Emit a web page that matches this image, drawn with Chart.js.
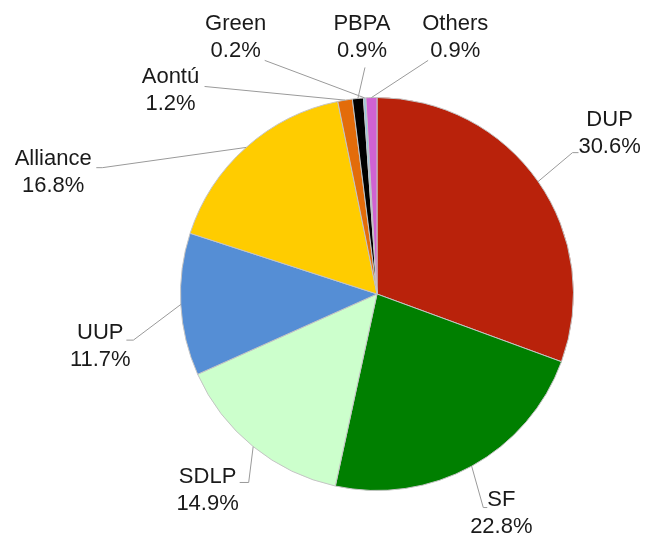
<!DOCTYPE html>
<html>
<head>
<meta charset="utf-8">
<script src="https://cdn.jsdelivr.net/npm/chart.js@4/dist/chart.umd.min.js"></script>
<style>
  html, body { margin: 0; padding: 0; background: #fff; }
  #wrap { width: 646px; height: 535px; position: relative; }
</style>
</head>
<body>
<div id="wrap"><canvas id="chartSeats"></canvas></div>
<script>
// data, clockwise from 12 o'clock
const parties = ['DUP', 'SF', 'SDLP', 'UUP', 'Alliance', 'Aontú', 'PBPA', 'Green', 'Others'];
const shares = [30.6, 22.8, 14.9, 11.7, 16.8, 1.2, 0.9, 0.2, 0.9];
const colours = ['#b9220b', '#007f00', '#ccffcc', '#558ed5', '#ffcc00', '#e36c0a', '#000000', '#94c8e4', '#d062d2'];

// label placement: text block centre and leader end, offsets from pie centre (for radius 196)
// [textDx, textDy, endDx, endDy, tick]
const labelLayout = [
    [232, -160, 195, -141, 6],
    [124, 219, 106, 213, 4],
    [-169, 196, -128, 188, -9],
    [-276, 52, -243, 46, -7],
    [-323, -121, -274, -126, -6],
    [-206, -203, -172, -207, 0],
    [-15, -256, -12, -226, 0],
    [-141, -256, -112, -233, 0],
    [78, -256, 51, -233, 0]
];

const leaderLabels = {
    id: 'leaderLabels',
    afterDraw(chart) {
        const ctx = chart.ctx;
        const arcs = chart.getDatasetMeta(0).data;
        ctx.save();
        ctx.font = '22px "Liberation Sans", Arial, sans-serif';
        ctx.textAlign = 'center';
        ctx.textBaseline = 'middle';
        arcs.forEach((arc, i) => {
            const p = arc.getProps(['x', 'y', 'startAngle', 'endAngle', 'outerRadius'], true);
            const k = p.outerRadius / 196;
            const mid = (p.startAngle + p.endAngle) / 2;
            const sx = p.x + Math.cos(mid) * p.outerRadius;
            const sy = p.y + Math.sin(mid) * p.outerRadius;
            const [tdx, tdy, edx, edy, tick] = labelLayout[i];
            const ex = p.x + edx * k, ey = p.y + edy * k;
            ctx.strokeStyle = '#9a9a9a';
            ctx.lineWidth = 1;
            ctx.beginPath();
            ctx.moveTo(sx, sy);
            ctx.lineTo(ex, ey);
            if (tick) ctx.lineTo(ex + tick, ey);
            ctx.stroke();
            const tx = p.x + tdx * k, ty = p.y + tdy * k;
            ctx.fillStyle = '#1a1a1a';
            ctx.fillText(parties[i], tx, ty - 13.5);
            ctx.fillText(shares[i].toFixed(1) + '%', tx, ty + 13.5);
        });
        ctx.restore();
    }
};

new Chart(document.getElementById('chartSeats'), {
    type: 'pie',
    data: {
        labels: parties,
        datasets: [{
            data: shares,
            backgroundColor: colours,
            borderColor: '#c4c4c4',
            borderWidth: 1,
            hoverOffset: 0
        }]
    },
    options: {
        responsive: true,
        maintainAspectRatio: false,
        animation: false,
        layout: { padding: { left: 180, right: 72, top: 97, bottom: 44 } },
        plugins: {
            legend: { display: false },
            tooltip: { enabled: false }
        }
    },
    plugins: [leaderLabels]
});
</script>
</body>
</html>
